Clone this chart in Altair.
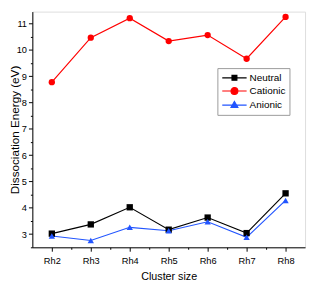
import altair as alt
import pandas as pd

sizes = ["Rh2", "Rh3", "Rh4", "Rh5", "Rh6", "Rh7", "Rh8"]
series_names = ["Neutral", "Cationic", "Anionic"]
neutral = [3.02, 3.37, 4.02, 3.17, 3.63, 3.04, 4.55]
cationic = [8.77, 10.46, 11.20, 10.33, 10.56, 9.66, 11.25]
anionic = [2.93, 2.76, 3.26, 3.13, 3.47, 2.88, 4.28]
colors = ["#000000", "#ff0000", "#2255ff"]
shapes = ["square", "circle", "triangle-up"]

y_major = [3, 4, 5, 6, 7, 8, 9, 10, 11]
y_minor = [2.5, 3.5, 4.5, 5.5, 6.5, 7.5, 8.5, 9.5, 10.5, 11.5]
x_major = [2, 3, 4, 5, 6, 7, 8]
x_minor = [2.5, 3.5, 4.5, 5.5, 6.5, 7.5]

rows = []
for name, vals in zip(series_names, [neutral, cationic, anionic]):
    for s, v in zip(sizes, vals):
        rows.append({"n": int(s[2:]), "size": s, "series": name, "energy": v})
df = pd.DataFrame(rows)

FONT = "Liberation Sans"

xscale = alt.Scale(domain=[1.5, 8.5], nice=False, zero=False)
yscale = alt.Scale(domain=[2.5, 11.45], nice=False, zero=False)
cscale = alt.Scale(domain=series_names, range=colors)

common_axis = dict(grid=False, domainColor="black", tickColor="black",
                   labelColor="black", labelFont=FONT, titleFont=FONT,
                   titleColor="black", titleFontWeight="normal")

x_axis = alt.Axis(orient="bottom", values=x_major, labelExpr="'Rh' + datum.value",
                  title="Cluster size", tickSize=4, labelPadding=5, labelFontSize=9.5,
                  titleFontSize=11, titlePadding=6, **common_axis)
y_axis = alt.Axis(orient="left", values=y_major, title="Dissociation Energy (eV)",
                  tickSize=4, labelPadding=2, labelFontSize=9.5, titleFontSize=12,
                  titleX=-14, titleBaseline="alphabetic", **common_axis)

# legend symbols: a 25px line with the marker in its middle (path units x5 px)
sym_expr = ("datum.value === 'Neutral' ? 'M-1,0H4M1,-0.5H2V0.5H1Z' : "
            "datum.value === 'Cationic' ? 'M-1,0H4M0.8,0A0.7,0.7,0,1,0,2.2,0A0.7,0.7,0,1,0,0.8,0Z' : "
            "'M-1,0H4M1.5,-0.75L2.2,0.45L0.8,0.45Z'")
col_expr = "scale('color', datum.value)"

legend = alt.Legend(title=None, orient="none", legendX=190, legendY=58,
                    symbolType=alt.ExprRef(expr=sym_expr), symbolSize=100,
                    symbolStrokeWidth=1.2,
                    symbolFillColor=alt.ExprRef(expr=col_expr),
                    symbolStrokeColor=alt.ExprRef(expr=col_expr),
                    labelFont=FONT, labelFontSize=10.2, labelColor="black",
                    labelOffset=17, strokeColor="#999999", fillColor="white",
                    padding=4, rowPadding=1.5)

base = alt.Chart(df)

lines = base.mark_line(strokeWidth=1.2).encode(
    x=alt.X("n:Q", scale=xscale, axis=x_axis),
    y=alt.Y("energy:Q", scale=yscale, axis=y_axis),
    color=alt.Color("series:N", scale=cscale, legend=legend),
    detail="series:N",
)

point_layers = []
for name, col, shp in zip(series_names, colors, shapes):
    point_layers.append(
        base.transform_filter(alt.datum.series == name)
        .mark_point(filled=True, opacity=1, size=42, shape=shp, color=col)
        .encode(
            x=alt.X("n:Q", scale=xscale, axis=None),
            y=alt.Y("energy:Q", scale=yscale, axis=None),
        )
    )

minor_x_axis = alt.Axis(orient="bottom", values=x_minor, labels=False, domain=False,
                        grid=False, tickSize=2, tickColor="black", title=None)
minor_y_axis = alt.Axis(orient="left", values=y_minor, labels=False, domain=False,
                        grid=False, tickSize=2, tickColor="black", title=None)
minor = base.mark_point(opacity=0).encode(
    x=alt.X("n:Q", scale=xscale, axis=minor_x_axis),
    y=alt.Y("energy:Q", scale=yscale, axis=minor_y_axis),
)

chart = alt.layer(lines, minor, *point_layers).resolve_axis(
    x="independent", y="independent"
).properties(
    width=280, height=242,
    padding={"left": 25, "top": 0, "right": 2, "bottom": 36},
    autosize=alt.AutoSizeParams(type="none"),
).configure_view(stroke=None).configure(background="white")

chart.save("out.html", embed_options={"renderer": "svg", "actions": False})
